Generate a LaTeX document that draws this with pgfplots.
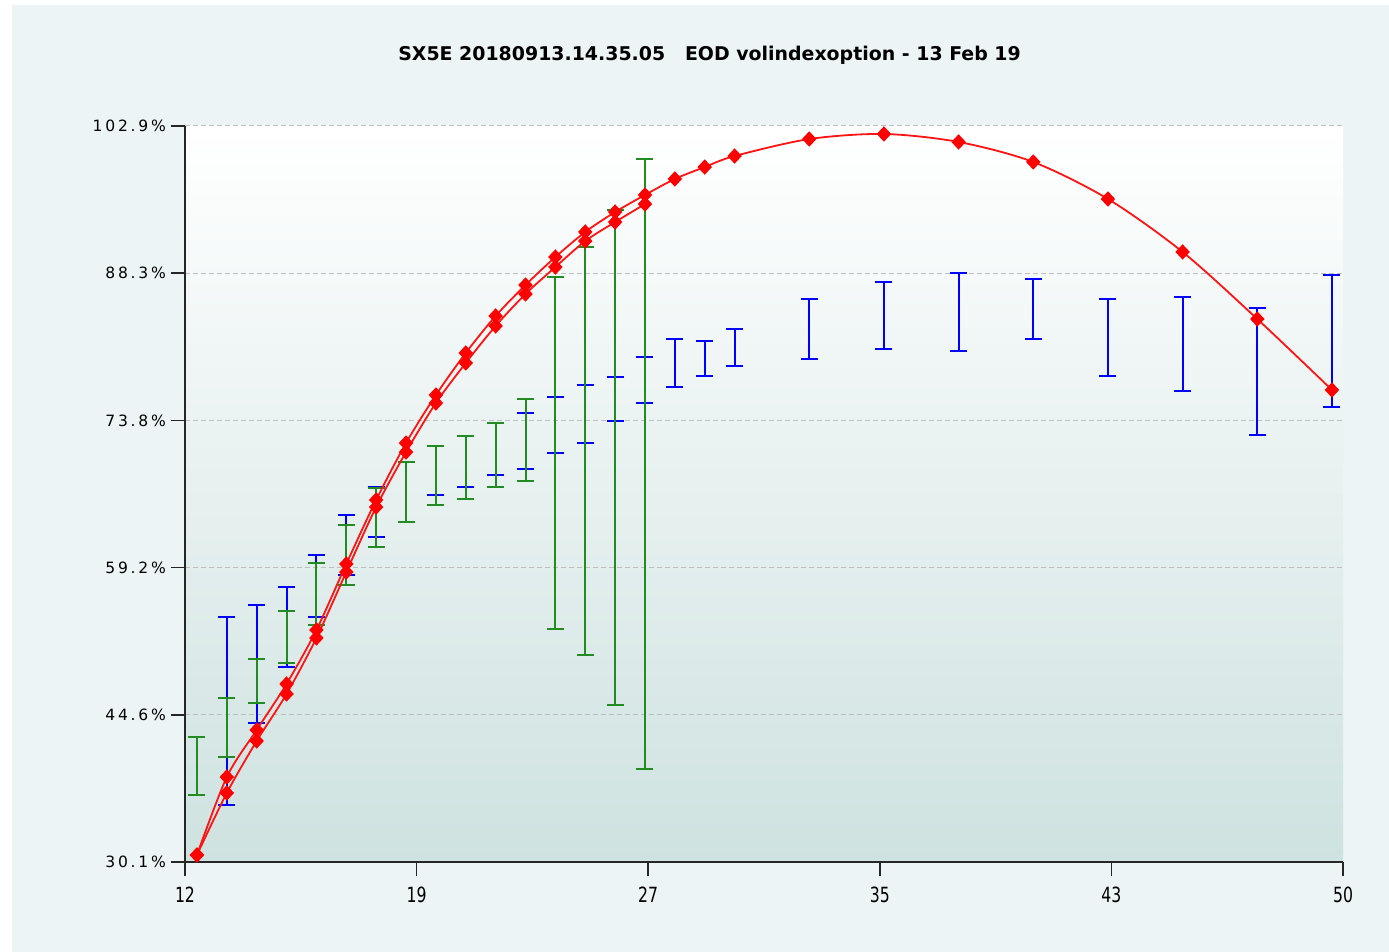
\documentclass[border=0pt]{standalone}
\usepackage{fontspec}
\setmainfont{DejaVu Sans}
\usepackage{pgfplots}
\usepackage{pgfplotstable}
\pgfplotsset{compat=1.18}
\usetikzlibrary{backgrounds,calc}
\newfontfamily\tickfont{DejaVu Sans}[LetterSpace=18]
\definecolor{panel}{RGB}{236,244,245}
\definecolor{plotbot}{RGB}{206,226,224}
\definecolor{gridc}{RGB}{190,190,190}
\definecolor{barblue}{RGB}{0,0,255}
\definecolor{bargreen}{RGB}{34,139,34}
\definecolor{curvered}{RGB}{255,20,20}

\pgfplotstableread{
x y e
13 45.04 9.30
14 49.69 5.84
15 53.35 3.96
16 57.40 3.07
17 61.46 2.97
18 64.72 2.47
19 66.70 2.97
20 68.83 2.43
21 69.72 2.53
22 70.95 2.57
23 71.74 2.77
24 73.33 2.77
25 74.41 2.87
26 75.90 2.18
27 77.78 2.28
28 79.46 2.37
29 79.90 1.73
30 80.99 1.83
32.5 82.82 2.97
35 84.16 3.31
37.5 84.50 3.86
40 84.80 2.97
42.5 81.98 3.81
45 81.34 4.65
47.5 78.62 6.28
50 81.64 6.53
}\bluebars

\pgfplotstableread{
x y e
12 39.60 2.87
13 43.40 2.92
14 48.00 2.18
15 52.35 2.57
16 56.61 3.07
17 60.47 2.97
18 64.18 2.92
19 66.70 2.97
20 68.33 2.92
21 69.12 3.12
22 70.36 3.17
23 71.84 4.06
24 70.56 17.41
25 70.76 20.18
26 70.11 24.48
27 69.47 30.17
}\greenbars

\pgfplotstableread{
x y
12 30.79
13 38.51
14 43.16
15 47.71
16 53.05
17 59.58
18 65.91
19 71.54
20 76.29
21 80.45
22 84.11
23 87.17
24 89.94
25 92.42
26 94.39
27 96.08
28 97.66
29 98.84
30 99.93
32.5 101.61
35 102.11
37.5 101.32
40 99.34
42.5 95.68
45 90.44
47.5 83.81
50 76.79
}\redupper

\pgfplotstableread{
x y
12 30.79
13 36.93
14 42.07
15 46.72
16 52.26
17 58.78
18 65.21
19 70.65
20 75.50
21 79.46
22 83.12
23 86.28
24 88.95
25 91.52
26 93.40
27 95.18
}\redlower

\begin{document}
\begin{tikzpicture}
\begin{axis}[
  scale only axis, width=579bp, height=368bp,
  xmin=11.6, xmax=50.37, ymin=30.1, ymax=102.9,
  axis x line*=bottom, axis y line*=left,
  axis line style={line width=1bp, black!85},
  axis background/.style={top color=white, bottom color=plotbot},
  xtick={11.6,19.354,27.108,34.862,42.616,50.37},
  xticklabels={\scalebox{0.75}[1]{12},\scalebox{0.75}[1]{19},\scalebox{0.75}[1]{27},\scalebox{0.75}[1]{35},\scalebox{0.75}[1]{43},\scalebox{0.75}[1]{50}},
  ytick={30.1,44.66,59.22,73.78,88.34,102.9},
  yticklabels={30.1\%,44.6\%,59.2\%,73.8\%,88.3\%,102.9\%},
  tick align=outside,
  major tick length=7bp,
  tick style={line width=0.8bp, black!85},
  x tick label style={font=\fontsize{10.5}{12}\selectfont, yshift=-2bp},
  y tick label style={font=\tickfont\fontsize{7.8}{9}\selectfont, xshift=1bp},
  ymajorgrids,
  grid style={gridc, line width=0.5bp, dash pattern=on 2.5bp off 1.5bp},
]
\addplot[draw=none, mark=none,
  error bars/.cd, y dir=both, y explicit,
  error bar style={line width=1bp, draw=barblue},
  error mark options={line width=1bp, draw=barblue, mark size=4.25bp, rotate=90}]
  table[x=x, y=y, y error=e] {\bluebars};
\addplot[draw=none, mark=none,
  error bars/.cd, y dir=both, y explicit,
  error bar style={line width=1bp, draw=bargreen},
  error mark options={line width=1bp, draw=bargreen, mark size=4.25bp, rotate=90}]
  table[x=x, y=y, y error=e] {\greenbars};
\addplot[curvered, line width=0.9bp, smooth, mark=diamond*, mark size=3.2bp,
  mark options={solid, fill=red, draw=red, xscale=1.25}]
  table[x=x, y=y] {\redlower};
\addplot[curvered, line width=0.9bp, smooth, mark=diamond*, mark size=3.2bp,
  mark options={solid, fill=red, draw=red, xscale=1.25}]
  table[x=x, y=y] {\redupper};
\coordinate (A) at (rel axis cs:0,0);
\end{axis}
\begin{scope}[on background layer, x=1bp, y=1bp]
\fill[white] ($(A)+(-92.5bp,-45bp)$) rectangle ++(694.5bp,476bp);
\fill[panel] ($(A)+(-86.5bp,-45bp)$) rectangle ++(688.5bp,473.5bp);
\end{scope}
\node[font=\bfseries\fontsize{9.5}{11}\selectfont] at ($(A)+(262.25bp,403.5bp)$) {SX5E 20180913.14.35.05\ \ \ EOD volindexoption - 13 Feb 19};
\end{tikzpicture}
\end{document}
